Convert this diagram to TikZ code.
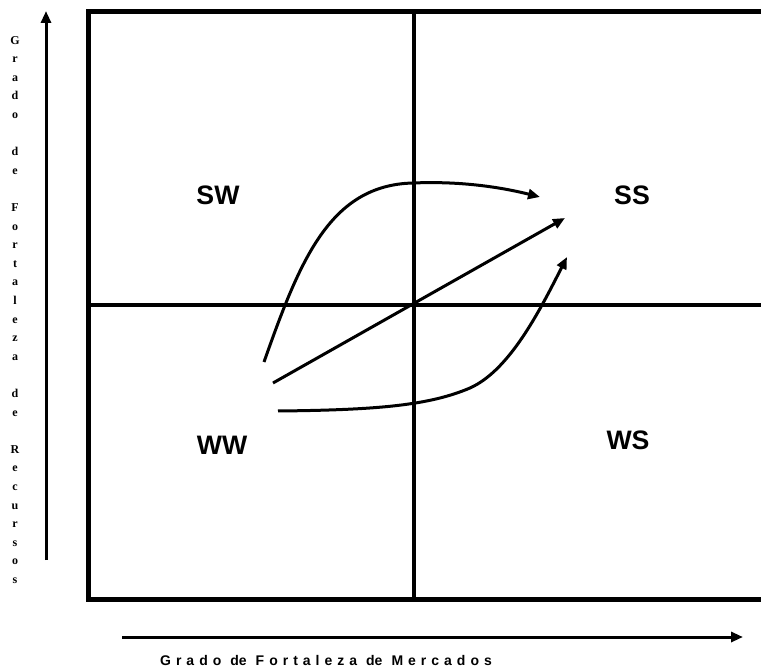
\documentclass[tikz,border=0pt]{standalone}
\usepackage{fontspec}
\setmainfont{Liberation Serif}
\newfontfamily\labfont{Liberation Sans}
\usetikzlibrary{arrows.meta}
\newcommand{\wgap}{\hspace{9pt}}
\newcommand{\lgap}{\hspace{5pt}}
\begin{document}
\begin{tikzpicture}[x=1pt,y=-1pt,
  frame/.style={line width=5pt,line join=miter},
  divider/.style={line width=3.5pt},
  flow/.style={line width=3pt,-{Triangle[length=12pt,width=10pt]}},
  axis/.style={line width=3pt,-{Triangle[length=12pt,width=10pt]}},
  quad/.style={font=\labfont\bfseries\fontsize{26.7}{30}\selectfont,inner sep=0pt},
  vlab/.style={font=\bfseries\fontsize{12}{18.6}\selectfont,align=center,anchor=north,inner sep=0pt},
  hlab/.style={font=\labfont\bfseries\fontsize{14}{16}\selectfont,inner sep=0pt}
]
\clip (0,0) rectangle (761,668);
\fill[white] (0,0) rectangle (761,668);
% frame and dividers
\coordinate (tr) at (800,12);
\coordinate (tl) at (88,12);
\coordinate (bl) at (88,599);
\coordinate (br) at (800,599);
\draw[frame] (tr) -- (tl) -- (bl) -- (br);
\coordinate (vt) at (414,12);
\coordinate (vb) at (414,599);
\coordinate (hl) at (88,305);
\coordinate (hr) at (800,305);
\draw[divider] (vt) -- (vb);
\draw[divider] (hl) -- (hr);
% axes
\coordinate (ya0) at (46,560);
\coordinate (ya1) at (46,11);
\coordinate (xa0) at (122,637);
\coordinate (xa1) at (743,637);
\draw[axis] (ya0) -- (ya1);
\draw[axis] (xa0) -- (xa1);
% quadrant labels
\node[quad] (sw) at (218,195) {SW};
\node[quad] (ss) at (632,195) {SS};
\node[quad] (ww) at (222,445) {WW};
\node[quad] (ws) at (628,440) {WS};
% axis labels
\node[vlab] (ylab) at (15,36) {G\\r\\a\\d\\o\\[18.6pt]d\\e\\[18.6pt]F\\o\\r\\t\\a\\l\\e\\z\\a\\[18.6pt]d\\e\\[18.6pt]R\\e\\c\\u\\r\\s\\o\\s};
\node[hlab] (xlab) at (326,660) {G\lgap r\lgap a\lgap d\lgap o\wgap de\wgap F\lgap o\lgap r\lgap t\lgap a\lgap l\lgap e\lgap z\lgap a\wgap de\wgap M\lgap e\lgap r\lgap c\lgap a\lgap d\lgap o\lgap s};
% flows
\coordinate (a1s) at (264,362);
\coordinate (a1m) at (413,183);
\coordinate (a1e) at (540,197);
\draw[flow] (a1s) .. controls (300,260) and (330,185) .. (a1m) .. controls (460,181) and (500,187) .. (a1e);
\coordinate (a2s) at (273,383);
\coordinate (a2e) at (565,218);
\draw[flow] (a2s) -- (a2e);
\coordinate (a3s) at (278,411);
\coordinate (a3m) at (470,388);
\coordinate (a3e) at (567,257);
\draw[flow] (a3s) .. controls (380,410) and (430,405) .. (a3m) .. controls (510,370) and (540,310) .. (a3e);
\end{tikzpicture}
\end{document}
